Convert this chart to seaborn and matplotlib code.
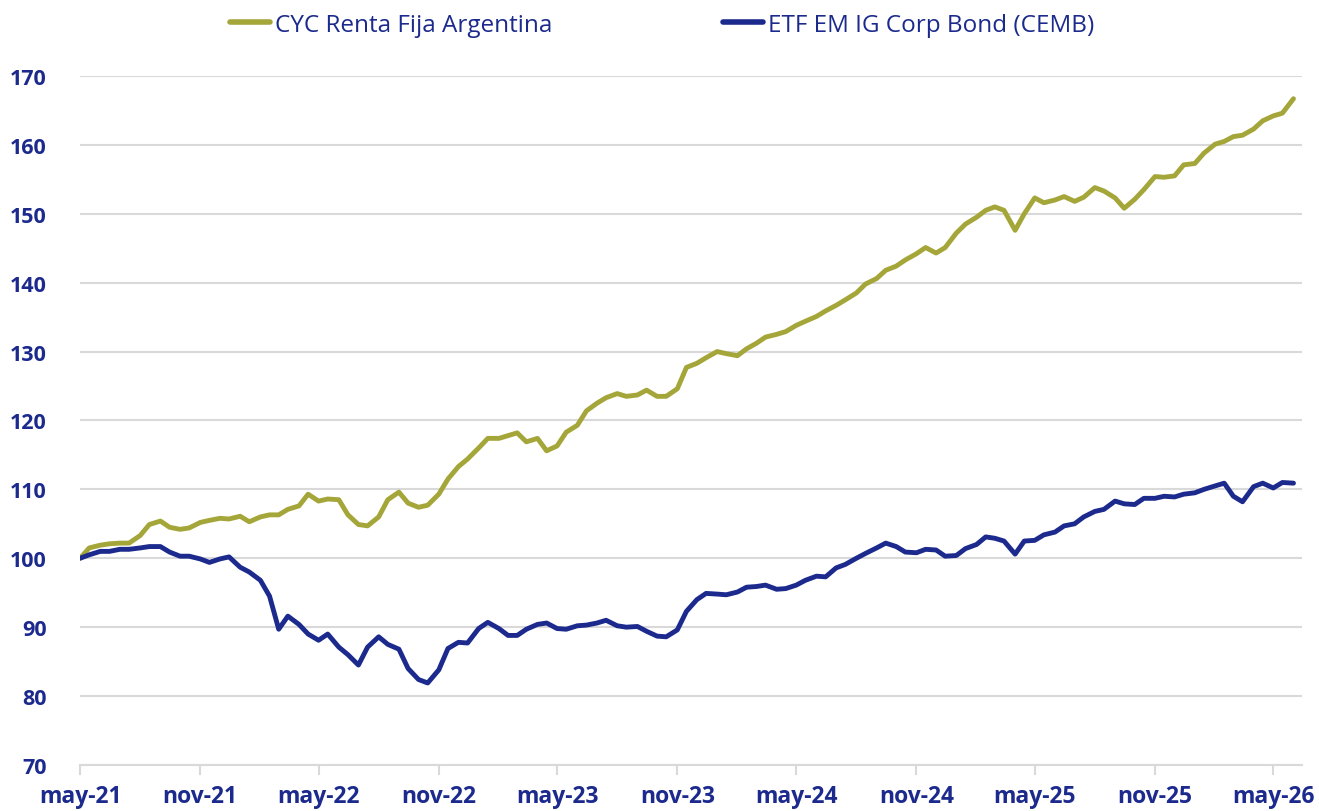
import pandas as pd
import matplotlib
matplotlib.use("Agg")
import matplotlib.pyplot as plt
import seaborn as sns

sns.set_theme(style="white")
plt.rcParams['font.family'] = ['Open Sans', 'DejaVu Sans']

## Data ##

# semi-monthly observations, may-21 .. jun-26
fechas = pd.date_range("2021-05-01", "2026-06-01", freq="SMS")

cyc_renta_fija = [
    100.0, 101.5, 101.9, 102.1, 102.2, 102.2, 103.3, 104.9, 105.4, 104.5,
    104.2, 104.4, 105.2, 105.5, 105.8, 105.7, 106.1, 105.3, 106.0, 106.3,
    106.3, 107.1, 107.6, 109.3, 108.3, 108.6, 108.5, 106.3, 104.9, 104.7,
    106.0, 108.5, 109.6, 108.0, 107.4, 107.7, 109.3, 111.5, 113.3, 114.4,
    116.0, 117.4, 117.4, 117.8, 118.2, 116.9, 117.4, 115.6, 116.3, 118.3,
    119.3, 121.4, 122.5, 123.3, 123.9, 123.5, 123.7, 124.4, 123.5, 123.5,
    124.6, 127.7, 128.3, 129.1, 130.0, 129.7, 129.4, 130.4, 131.2, 132.1,
    132.5, 132.9, 133.8, 134.4, 135.1, 135.9, 136.7, 137.5, 138.5, 139.8,
    140.6, 141.8, 142.4, 143.3, 144.2, 145.1, 144.3, 145.1, 147.2, 148.5,
    149.5, 150.5, 151.0, 150.5, 147.6, 150.0, 152.3, 151.6, 152.0, 152.5,
    151.8, 152.4, 153.8, 153.3, 152.3, 150.8, 152.1, 153.5, 155.4, 155.3,
    155.5, 157.1, 157.3, 158.8, 160.1, 160.5, 161.2, 161.4, 162.3, 163.5,
    164.2, 164.6, 166.7,
]

cemb = [
    100.0, 100.5, 101.0, 101.0, 101.3, 101.3, 101.5, 101.7, 101.7, 100.9,
    100.3, 100.3, 99.9, 99.4, 99.9, 100.2, 98.7, 98.0, 96.8, 94.5,
    89.7, 91.6, 90.4, 89.0, 88.1, 89.0, 87.1, 86.0, 84.5, 87.1,
    88.6, 87.5, 86.8, 84.0, 82.4, 81.9, 83.8, 86.9, 87.8, 87.7,
    89.8, 90.7, 89.8, 88.8, 88.8, 89.7, 90.4, 90.6, 89.8, 89.7,
    90.2, 90.3, 90.6, 91.0, 90.2, 90.0, 90.1, 89.4, 88.7, 88.6,
    89.6, 92.3, 94.0, 94.9, 94.8, 94.7, 95.1, 95.8, 95.9, 96.1,
    95.5, 95.6, 96.1, 96.8, 97.4, 97.3, 98.6, 99.1, 100.0, 100.7,
    101.5, 102.2, 101.7, 100.9, 100.8, 101.3, 101.2, 100.3, 100.4, 101.4,
    102.0, 103.1, 102.9, 102.5, 100.6, 102.5, 102.6, 103.4, 103.8, 104.7,
    105.0, 106.0, 106.8, 107.1, 108.3, 107.9, 107.8, 108.7, 108.7, 109.0,
    108.9, 109.3, 109.5, 110.0, 110.5, 110.9, 109.0, 108.2, 110.4, 110.9,
    110.2, 111.0, 110.9,
]

series = ["CYC Renta Fija Argentina", "ETF EM IG Corp Bond (CEMB)"]
colores = ["#A5A63A", "#1B2A8C"]

tick_fechas = pd.to_datetime([
    "2021-05-01", "2021-11-01", "2022-05-01", "2022-11-01", "2023-05-01",
    "2023-11-01", "2024-05-01", "2024-11-01", "2025-05-01", "2025-11-01",
    "2026-05-01",
])
tick_labels = ["may-21", "nov-21", "may-22", "nov-22", "may-23", "nov-23",
               "may-24", "nov-24", "may-25", "nov-25", "may-26"]
y_ticks = [70, 80, 90, 100, 110, 120, 130, 140, 150, 160, 170]

df = pd.concat([
    pd.DataFrame({"fecha": fechas, "valor": cyc_renta_fija, "serie": series[0]}),
    pd.DataFrame({"fecha": fechas, "valor": cemb, "serie": series[1]}),
])

## Plot ##

azul = "#1B2A8C"
fig = plt.figure(figsize=(13.19, 8.12), dpi=100)
ax = fig.add_axes([0.0607, 0.0567, 0.9264, 0.8485])

sns.lineplot(data=df, x="fecha", y="valor", hue="serie", palette=colores,
             linewidth=3.5, ax=ax, legend=True)

ax.set_ylim(70, 170)
ax.set_xlim(pd.Timestamp("2021-05-01"), pd.Timestamp("2026-06-14"))
ax.set_yticks(y_ticks)
ax.set_yticklabels([str(v) for v in y_ticks], fontweight="bold", color=azul, fontsize=15.5)
ax.set_xticks(tick_fechas)
ax.set_xticklabels(tick_labels, fontweight="bold", color=azul, fontsize=16.5)
ax.set_xlabel("")
ax.set_ylabel("")

ax.grid(axis="y", color="#D9D9D9", linewidth=1.5)
ax.set_axisbelow(True)
for s in ["top", "right", "left"]:
    ax.spines[s].set_visible(False)
ax.spines["bottom"].set_color("#D9D9D9")
ax.spines["bottom"].set_linewidth(1.5)
ax.tick_params(axis="x", bottom=True, length=7, width=1.5, color="#D9D9D9", pad=7)
ax.tick_params(axis="y", left=False, pad=18)

handles, labels = ax.get_legend_handles_labels()
leg = ax.legend(handles, labels, loc="upper center", bbox_to_anchor=(0.502, 1.01),
                bbox_transform=fig.transFigure, ncol=2, frameon=False,
                fontsize=17.5, labelcolor=azul, handlelength=1.65, handletextpad=0.2,
                columnspacing=7.0)
for h in leg.get_lines():
    h.set_linewidth(4)

plt.savefig("out.png", dpi=100)
